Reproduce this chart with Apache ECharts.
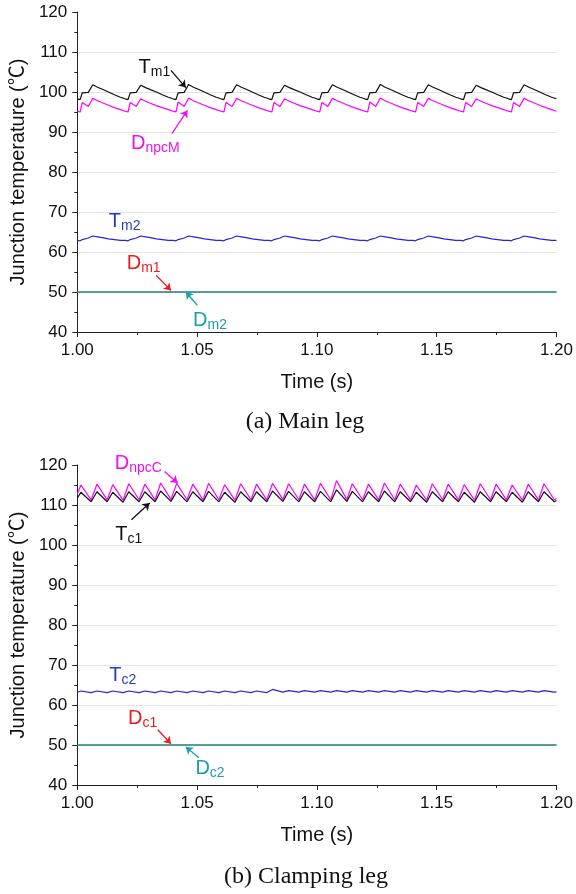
<!DOCTYPE html>
<html>
<head>
<meta charset="utf-8">
<script src="https://cdn.jsdelivr.net/npm/echarts@6/dist/echarts.min.js"></script>
<style>
  html, body { margin: 0; padding: 0; background: #fff; }
  #main { width: 576px; height: 894px; }
</style>
</head>
<body>
<div id="main"></div>
<script>
// x tick labels and y range shared by both panels
var xTicks = [1.00, 1.05, 1.10, 1.15, 1.20];
var yTicks = [40, 50, 60, 70, 80, 90, 100, 110, 120];

// (a) main leg -- time stamps
var timeMain = [
  1.0000,1.0012,1.0021,1.0046,1.0065,1.0085,1.0105,1.0130,1.0155,1.0180,
  1.0200,1.0212,1.0221,1.0246,1.0265,1.0285,1.0305,1.0330,1.0355,1.0380,
  1.0400,1.0412,1.0421,1.0446,1.0465,1.0485,1.0505,1.0530,1.0555,1.0580,
  1.0600,1.0612,1.0621,1.0646,1.0665,1.0685,1.0705,1.0730,1.0755,1.0780,
  1.0800,1.0812,1.0821,1.0846,1.0865,1.0885,1.0905,1.0930,1.0955,1.0980,
  1.1000,1.1012,1.1021,1.1046,1.1065,1.1085,1.1105,1.1130,1.1155,1.1180,
  1.1200,1.1212,1.1221,1.1246,1.1265,1.1285,1.1305,1.1330,1.1355,1.1380,
  1.1400,1.1412,1.1421,1.1446,1.1465,1.1485,1.1505,1.1530,1.1555,1.1580,
  1.1600,1.1612,1.1621,1.1646,1.1665,1.1685,1.1705,1.1730,1.1755,1.1780,
  1.1800,1.1812,1.1821,1.1846,1.1865,1.1885,1.1905,1.1930,1.1955,1.1980,
  1.2000
];
var tm1 = [
  98.3,98.1,99.8,99.9,101.8,101.2,100.7,100.0,99.3,98.7,
  98.3,98.1,99.8,99.9,101.7,101.1,100.6,100.0,99.3,98.7,
  98.3,98.1,99.8,99.9,101.9,101.2,100.7,100.0,99.3,98.7,
  98.3,98.1,99.8,99.9,101.8,101.2,100.7,100.0,99.3,98.7,
  98.3,98.1,99.8,99.9,101.7,101.1,100.6,100.0,99.3,98.7,
  98.3,98.1,99.8,99.9,101.8,101.2,100.7,100.0,99.3,98.7,
  98.3,98.1,99.8,99.9,101.9,101.2,100.7,100.0,99.3,98.7,
  98.3,98.1,99.8,99.9,101.8,101.2,100.7,100.0,99.3,98.7,
  98.3,98.1,99.8,99.9,101.7,101.1,100.6,100.0,99.3,98.7,
  98.3,98.1,99.8,99.9,101.8,101.2,100.7,100.0,99.3,98.7,
  98.3
];
var dnpcM = [
  95.2,95.0,97.4,96.4,98.4,97.8,97.3,96.7,96.1,95.6,
  95.2,95.0,97.4,96.4,98.3,97.7,97.2,96.6,96.1,95.6,
  95.2,95.0,97.5,96.4,98.5,97.8,97.3,96.7,96.1,95.6,
  95.2,95.0,97.4,96.4,98.4,97.8,97.3,96.7,96.1,95.6,
  95.2,95.0,97.4,96.4,98.3,97.7,97.2,96.6,96.1,95.6,
  95.2,95.0,97.4,96.4,98.4,97.8,97.3,96.7,96.1,95.6,
  95.2,95.0,97.5,96.4,98.5,97.8,97.3,96.7,96.1,95.6,
  95.2,95.0,97.4,96.4,98.4,97.8,97.3,96.7,96.1,95.6,
  95.2,95.0,97.4,96.4,98.3,97.7,97.2,96.6,96.1,95.6,
  95.2,95.0,97.4,96.4,98.4,97.8,97.3,96.7,96.1,95.6,
  95.2
];
var tm2 = [
  62.9,62.8,63.1,63.5,64.0,63.8,63.6,63.3,63.1,62.9,
  62.9,62.8,63.1,63.5,64.0,63.8,63.6,63.3,63.1,62.9,
  62.9,62.8,63.1,63.5,64.0,63.8,63.6,63.3,63.1,62.9,
  62.9,62.8,63.1,63.5,64.0,63.8,63.6,63.3,63.1,62.9,
  62.9,62.8,63.1,63.5,64.0,63.8,63.6,63.3,63.1,62.9,
  62.9,62.8,63.1,63.5,64.0,63.8,63.6,63.3,63.1,62.9,
  62.9,62.8,63.1,63.5,64.0,63.8,63.6,63.3,63.1,62.9,
  62.9,62.8,63.1,63.5,64.0,63.8,63.6,63.3,63.1,62.9,
  62.9,62.8,63.1,63.5,64.0,63.8,63.6,63.3,63.1,62.9,
  62.9,62.8,63.1,63.5,64.0,63.8,63.6,63.3,63.1,62.9,
  62.9
];
var timeFlat = [1.00, 1.20];
var dm1 = [50, 50];
var dm2 = [50, 50];

// (b) clamping leg -- start, then peak/valley pairs, then end
var timeClamp = [
  1.0000,
  1.0015,1.0058, 1.0082,1.0125, 1.0148,1.0191, 1.0215,1.0258, 1.0282,1.0325,
  1.0348,1.0391, 1.0415,1.0458, 1.0482,1.0525, 1.0548,1.0591, 1.0615,1.0658,
  1.0682,1.0725, 1.0748,1.0791, 1.0815,1.0858, 1.0882,1.0925, 1.0948,1.0991,
  1.1015,1.1058, 1.1082,1.1125, 1.1148,1.1191, 1.1215,1.1258, 1.1282,1.1325,
  1.1348,1.1391, 1.1415,1.1458, 1.1482,1.1525, 1.1548,1.1591, 1.1615,1.1658,
  1.1682,1.1725, 1.1748,1.1791, 1.1815,1.1858, 1.1882,1.1925, 1.1948,1.1991,
  1.2000
];
var dnpcC = [
  112.7,
  115.0,111.3, 115.2,111.3, 115.1,111.2, 115.3,111.3, 115.2,111.3,
  115.5,111.4, 115.4,111.3, 115.2,111.3, 115.4,111.3, 115.1,111.2,
  115.3,111.3, 115.2,111.3, 115.4,111.4, 115.3,111.3, 115.2,111.3,
  115.4,111.3, 116.1,111.4, 115.3,111.3, 115.2,111.3, 115.5,111.3,
  115.2,111.3, 115.0,111.2, 115.3,111.3, 115.2,111.3, 115.1,111.2,
  115.3,111.3, 115.2,111.3, 115.0,111.2, 115.2,111.3, 115.3,111.3,
  111.6
];
var tc1 = [
  111.7,
  113.2,110.8, 113.3,110.8, 113.2,110.7, 113.3,110.8, 113.3,110.8,
  113.5,110.9, 113.4,110.8, 113.3,110.8, 113.4,110.8, 113.2,110.7,
  113.3,110.8, 113.3,110.8, 113.5,110.9, 113.4,110.8, 113.3,110.8,
  113.4,110.8, 113.8,110.9, 113.4,110.8, 113.3,110.8, 113.5,110.8,
  113.3,110.8, 113.2,110.7, 113.3,110.8, 113.3,110.8, 113.2,110.7,
  113.3,110.8, 113.3,110.8, 113.2,110.7, 113.3,110.8, 113.3,110.8,
  111.1
];
var tc2 = [
  63.2,
  63.5,63.1, 63.5,63.1, 63.5,63.1, 63.5,63.1, 63.5,63.1,
  63.5,63.1, 63.5,63.1, 63.5,63.1, 63.5,63.1, 63.5,63.1,
  63.5,63.1, 63.5,63.1, 63.9,63.2, 63.6,63.2, 63.6,63.2,
  63.6,63.2, 63.6,63.2, 63.6,63.2, 63.6,63.2, 63.6,63.2,
  63.6,63.2, 63.6,63.2, 63.6,63.2, 63.6,63.2, 63.6,63.2,
  63.6,63.2, 63.6,63.2, 63.6,63.2, 63.6,63.2, 63.6,63.2,
  63.3
];
var dc1 = [50, 50];
var dc2 = [50, 50];

// annotation text and arrows (data coordinates); dy shifts text in px
var notesA = [
  { main: 'T', sub: 'm1', at: [1.0322, 106.2], dy: 0, color: '#111111' },
  { main: 'D', sub: 'npcM', at: [1.0326, 87.2], dy: 0, color: '#ee11ee' },
  { main: 'T', sub: 'm2', at: [1.0198, 67.7], dy: 0, color: '#1f3fc0' },
  { main: 'D', sub: 'm1', at: [1.0277, 57.2], dy: 0, color: '#ee1c1c' },
  { main: 'D', sub: 'm2', at: [1.0554, 42.9], dy: 0, color: '#1a9fa8' }
];
var arrowsA = [
  { from: [1.0391, 105.4], to: [1.0453, 101.1], color: '#111111' },
  { from: [1.0395, 89.6], to: [1.0460, 95.4], color: '#ee11ee' },
  { from: [1.0329, 54.2], to: [1.0391, 50.4], color: '#ee1c1c' },
  { from: [1.0501, 46.7], to: [1.0453, 50.0], color: '#1a9fa8' }
];
var notesB = [
  { main: 'D', sub: 'npcC', at: [1.0255, 119.0], dy: -6, color: '#ee11ee' },
  { main: 'T', sub: 'c1', at: [1.0215, 102.6], dy: 0, color: '#111111' },
  { main: 'T', sub: 'c2', at: [1.0190, 67.4], dy: 0, color: '#1f3fc0' },
  { main: 'D', sub: 'c1', at: [1.0273, 56.6], dy: 0, color: '#ee1c1c' },
  { main: 'D', sub: 'c2', at: [1.0554, 44.1], dy: 0, color: '#1a9fa8' }
];
var arrowsB = [
  { from: [1.0364, 118.4], to: [1.0419, 115.5], color: '#ee11ee' },
  { from: [1.0226, 106.3], to: [1.0302, 110.5], color: '#111111' },
  { from: [1.0336, 53.8], to: [1.0391, 50.3], color: '#ee1c1c' },
  { from: [1.0508, 46.8], to: [1.0453, 49.5], color: '#1a9fa8' }
];

var FONT = 'Liberation Sans, Arial, Noto Sans CJK SC, sans-serif';
var SERIF = '24px "Liberation Serif", "Times New Roman", serif';

function pairs(xs, ys) {
  return xs.map(function (x, i) { return [x, ys[i]]; });
}

function xAxisFor(idx) {
  return {
    gridIndex: idx, type: 'value', min: xTicks[0], max: xTicks[xTicks.length - 1], interval: 0.05,
    name: 'Time (s)', nameLocation: 'middle', nameGap: 40,
    nameTextStyle: { fontSize: 20, color: '#111', fontFamily: FONT },
    axisLine: { show: true, onZero: false, lineStyle: { color: '#222', width: 1 } },
    axisTick: { show: true, length: 5, lineStyle: { color: '#222' } },
    minorTick: { show: true, splitNumber: 2, length: 3, lineStyle: { color: '#222' } },
    axisLabel: { fontSize: 17, color: '#111', fontFamily: FONT, margin: 10,
      formatter: function (v) { return v.toFixed(2); } },
    splitLine: { show: false }
  };
}

function yAxisFor(idx) {
  return {
    gridIndex: idx, type: 'value', min: yTicks[0], max: yTicks[yTicks.length - 1], interval: 10,
    name: 'Junction temperature (℃)', nameLocation: 'middle', nameGap: 47,
    nameTextStyle: { fontSize: 20, color: '#111', fontFamily: FONT },
    axisLine: { show: true, onZero: false, lineStyle: { color: '#222', width: 1 } },
    axisTick: { show: true, length: 5, lineStyle: { color: '#222' } },
    minorTick: { show: true, splitNumber: 2, length: 3, lineStyle: { color: '#222' } },
    axisLabel: { fontSize: 17, color: '#111', fontFamily: FONT, margin: 10 },
    splitLine: { show: true, showMinLine: false, showMaxLine: false, lineStyle: { color: '#e4e4e4', width: 1 } }
  };
}

function curve(idx, name, xs, ys, color, z, w) {
  return {
    name: name, type: 'line', xAxisIndex: idx, yAxisIndex: idx,
    data: pairs(xs, ys), showSymbol: false, symbol: 'none', z: z || 2,
    lineStyle: { color: color, width: w || 1.2 }, silent: true
  };
}

function notesSeries(idx, notes, arrows) {
  return {
    type: 'line', xAxisIndex: idx, yAxisIndex: idx, data: [], silent: true, z: 5,
    markPoint: {
      symbol: 'circle', symbolSize: 0, silent: true, animation: false,
      data: notes.map(function (n) {
        return {
          coord: n.at,
          label: {
            show: true, position: 'inside', offset: [0, n.dy],
            formatter: '{m|' + n.main + '}{s|' + n.sub + '}',
            rich: {
              m: { fontSize: 20, color: n.color, fontFamily: FONT },
              s: { fontSize: 14, color: n.color, fontFamily: FONT, padding: [10, 0, 0, 0] }
            }
          }
        };
      })
    },
    markLine: {
      symbol: ['none', 'arrow'], symbolSize: 7, silent: true, animation: false,
      label: { show: false },
      data: arrows.map(function (a) {
        return [
          { coord: a.from, lineStyle: { color: a.color, width: 1.3, type: 'solid' } },
          { coord: a.to }
        ];
      })
    }
  };
}

var chart = echarts.init(document.getElementById('main'), null, { renderer: 'canvas' });
chart.setOption({
  animation: false,
  backgroundColor: '#ffffff',
  grid: [
    { left: 77, right: 15, top: 12, height: 320 },
    { left: 77, right: 15, top: 465, height: 320 }
  ],
  xAxis: [xAxisFor(0), xAxisFor(1)],
  yAxis: [yAxisFor(0), yAxisFor(1)],
  series: [
    curve(0, 'Tm1', timeMain, tm1, '#111111', 3),
    curve(0, 'DnpcM', timeMain, dnpcM, '#ff00ff', 2),
    curve(0, 'Tm2', timeMain, tm2, '#2424dd', 2),
    curve(0, 'Dm1', timeFlat, dm1, '#ff0000', 2, 0.8),
    curve(0, 'Dm2', timeFlat, dm2, '#1f9e9e', 3, 1.5),
    notesSeries(0, notesA, arrowsA),
    curve(1, 'DnpcC', timeClamp, dnpcC, '#ff00ff', 2),
    curve(1, 'Tc1', timeClamp, tc1, '#111111', 3),
    curve(1, 'Tc2', timeClamp, tc2, '#2424dd', 2),
    curve(1, 'Dc1', timeFlat, dc1, '#ff0000', 2, 0.8),
    curve(1, 'Dc2', timeFlat, dc2, '#1f9e9e', 3, 1.5),
    notesSeries(1, notesB, arrowsB)
  ],
  graphic: [
    { type: 'text', x: 305, y: 422, style: { text: '(a) Main leg', font: SERIF, fill: '#111', textAlign: 'center', textVerticalAlign: 'middle' } },
    { type: 'text', x: 306, y: 877, style: { text: '(b) Clamping leg', font: SERIF, fill: '#111', textAlign: 'center', textVerticalAlign: 'middle' } }
  ]
});
</script>
</body>
</html>
